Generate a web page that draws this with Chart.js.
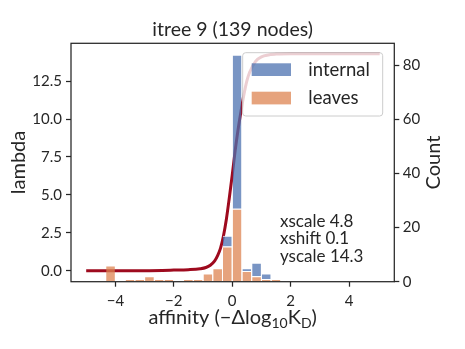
<!DOCTYPE html>
<html>
<head>
<meta charset="utf-8">
<script src="https://cdn.jsdelivr.net/npm/chart.js@4"></script>
<style>
  body { margin: 0; background: #fff; }
</style>
</head>
<body>
<canvas id="chart" width="465" height="349"></canvas>
<script>
// histogram bins (bin width 1/3), counts
const binCenters = [-4.1667, -3.5, -3.1667, -2.8333, -2.5, -2.1667, -1.5, -1.1667, -0.8333, -0.5, -0.1667, 0.1667, 0.5, 0.8333, 1.1667, 1.5];
const leavesCount = [6, 1, 1, 2, 1, 1, 1, 1, 3, 5, 13, 27, 4, 2, 1, 1];
const internalCount = [0, 0, 0, 0, 0, 0, 0, 0, 0, 0, 4, 57, 1, 5, 2, 0];

// fitted lambda curve
const curveX = [-5.0, -3.0, -2.0, -1.5, -1.1, -0.9, -0.75, -0.6, -0.5, -0.4, -0.3, -0.2, -0.1, 0.0, 0.1, 0.2, 0.3, 0.4, 0.5, 0.6, 0.8, 1.0, 1.5, 2.0, 5.05];
const curveLambda = [0.0, 0.01, 0.05, 0.08, 0.14, 0.22, 0.37, 0.66, 1.0, 1.5, 2.3, 3.4, 4.8, 6.3, 7.9, 9.3, 10.5, 11.6, 12.5, 13.1, 13.8, 14.1, 14.28, 14.3, 14.3];

const legendLabels = ['internal', 'leaves'];
const fitLabels = ['xscale 4.8', 'xshift 0.1', 'yscale 14.3'];
const title = 'itree 9 (139 nodes)';

const TEXT = '#262626';
const BLUE = 'rgba(76,114,176,0.75)';
const ORANGE = 'rgba(221,132,82,0.75)';
const RED = '#9e0a1e';

Chart.defaults.font.family = 'Lato';
Chart.defaults.color = TEXT;

// frame, title, axis labels, fit text and legend
const extras = {
  id: 'extras',
  afterDraw(c) {
    const ctx = c.ctx, a = c.chartArea;
    const cx = (a.left + a.right) / 2;
    const cy = (a.top + a.bottom) / 2;
    ctx.save();
    ctx.strokeStyle = TEXT;
    ctx.lineWidth = 1.25;
    ctx.strokeRect(a.left, a.top, a.right - a.left, a.bottom - a.top);

    ctx.fillStyle = TEXT;
    ctx.textBaseline = 'alphabetic';
    ctx.textAlign = 'center';
    ctx.font = '19.5px Lato';
    ctx.fillText(title, cx, a.top - 7);

    // right label reads bottom to top
    ctx.save();
    ctx.translate(a.right + 46, cy);
    ctx.rotate(-Math.PI / 2);
    ctx.font = '20px Lato';
    ctx.fillText('Count', 0, 0);
    ctx.restore();

    // affinity (−Δlog10 KD)
    const parts = [['affinity (\u2212\u0394log', 20, 0], ['10', 14, 4], ['K', 20, 0], ['D', 14, 4], [')', 20, 0]];
    let w = 0;
    parts.forEach(p => { ctx.font = p[1] + 'px Lato'; w += ctx.measureText(p[0]).width; });
    let x = cx - w / 2;
    ctx.textAlign = 'left';
    parts.forEach(p => {
      ctx.font = p[1] + 'px Lato';
      ctx.fillText(p[0], x, a.bottom + 42.5 + p[2]);
      x += ctx.measureText(p[0]).width;
    });

    ctx.font = '17px Lato';
    fitLabels.forEach((t, i) => ctx.fillText(t, a.left + 209, a.top + 183.4 + i * 17.7));

    // legend box
    const lx = a.left + 171.7, ly = a.top + 9.4;
    ctx.beginPath();
    ctx.roundRect(lx, ly, 140, 63.3, 3);
    ctx.fillStyle = 'rgba(255,255,255,0.8)';
    ctx.fill();
    ctx.strokeStyle = '#cccccc';
    ctx.lineWidth = 1;
    ctx.stroke();
    [BLUE, ORANGE].forEach((col, i) => {
      ctx.fillStyle = col;
      ctx.fillRect(lx + 9, ly + 10.6 + i * 28.4, 39.3, 12.7);
      ctx.fillStyle = TEXT;
      ctx.font = '18.5px Lato';
      ctx.fillText(legendLabels[i], lx + 65.6, ly + 23.3 + i * 28.3);
    });
    ctx.restore();
  }
};

const axisTicks = { color: TEXT, font: { size: 15 } };
const axisGrid = { drawOnChartArea: false, drawTicks: true, tickLength: 5, tickColor: TEXT, tickWidth: 1.25 };

new Chart(document.getElementById('chart'), {
  type: 'bar',
  data: {
    datasets: [
      {
        type: 'line',
        data: curveX.map((x, i) => ({ x, y: curveLambda[i] })),
        yAxisID: 'y',
        borderColor: RED,
        borderWidth: 3,
        pointRadius: 0,
        cubicInterpolationMode: 'monotone',
        order: 2
      },
      {
        label: legendLabels[1],
        data: binCenters.map((x, i) => ({ x, y: leavesCount[i] || null })),
        yAxisID: 'y2',
        backgroundColor: ORANGE,
        borderColor: '#ffffff',
        borderWidth: { top: 1, left: 0, right: 0, bottom: 0 },
        grouped: false,
        barPercentage: 0.9,
        categoryPercentage: 1,
        order: 1
      },
      {
        label: legendLabels[0],
        data: binCenters.map((x, i) => ({ x, y: internalCount[i] || null })),
        yAxisID: 'y2',
        backgroundColor: BLUE,
        borderColor: '#ffffff',
        borderWidth: { top: 1, left: 0, right: 0, bottom: 0 },
        grouped: false,
        barPercentage: 0.9,
        categoryPercentage: 1,
        order: 1
      }
    ]
  },
  options: {
    responsive: false,
    animation: false,
    layout: { padding: { top: 43.3, left: 0, right: 0, bottom: 0 } },
    plugins: { legend: { display: false }, tooltip: { enabled: false } },
    scales: {
      x: {
        type: 'linear',
        min: -5.52,
        max: 5.55,
        offset: false,
        border: { display: false },
        grid: Object.assign({ offset: false }, axisGrid),
        ticks: Object.assign({ stepSize: 2, includeBounds: false, padding: 5, maxRotation: 0,
          callback: v => v < 0 ? '\u2212' + Math.abs(v) : String(v) }, axisTicks),
        afterFit: s => { s.height = 67.3; }
      },
      y: {
        position: 'left',
        min: -0.715,
        max: 14.99,
        border: { display: false },
        grid: axisGrid,
        ticks: Object.assign({ stepSize: 2.5, includeBounds: false, padding: 4,
          callback: v => v.toFixed(1) }, axisTicks),
        title: { display: true, text: 'lambda', font: { size: 20 }, color: TEXT, padding: { top: 7, bottom: 0 } },
        afterFit: s => { s.width = 71; }
      },
      y2: {
        position: 'right',
        stacked: true,
        min: 0,
        max: 88.2,
        border: { display: false },
        grid: axisGrid,
        ticks: Object.assign({ stepSize: 20, includeBounds: false, padding: 3.5 }, axisTicks),
        afterFit: s => { s.width = 70.7; }
      }
    }
  },
  plugins: [extras]
});
</script>
</body>
</html>
